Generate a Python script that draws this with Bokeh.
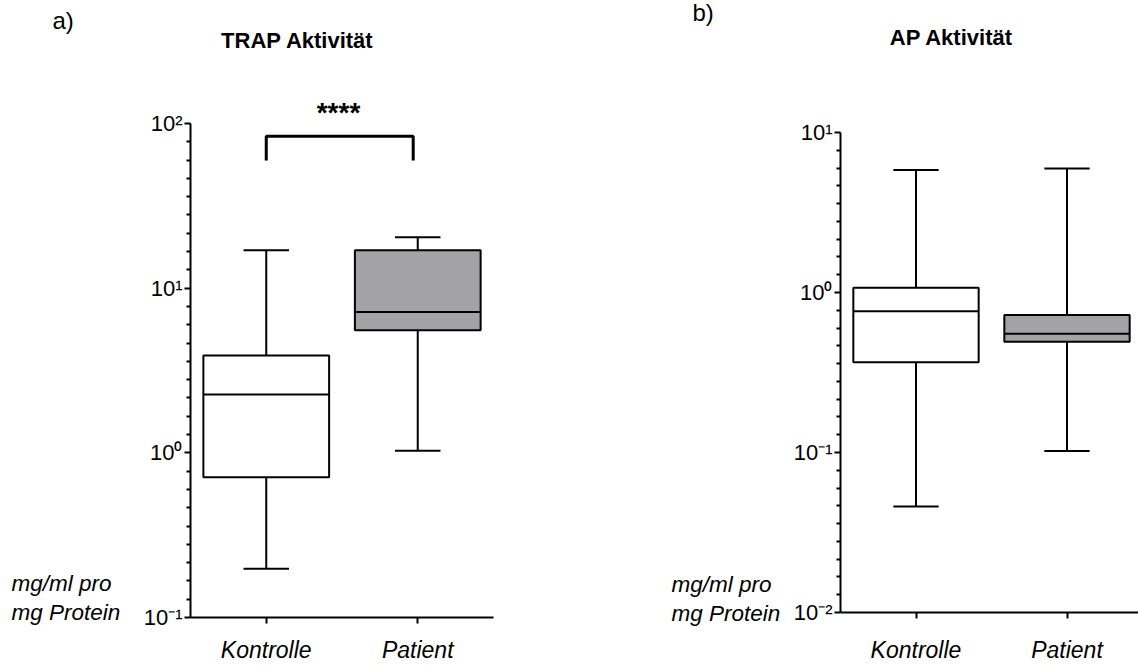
from bokeh.plotting import figure
from bokeh.models import Range1d, FixedTicker, Label
from bokeh.layouts import row
from bokeh.embed import file_html
from bokeh.resources import INLINE

# Box-plot summaries (min, Q1, median, Q3, max) per group
groups = ["Kontrolle", "Patient"]
box_colors = ["white", "#a3a2a7"]

trap_min = [0.198, 1.03]
trap_q1 = [0.71, 5.56]
trap_med = [2.26, 7.16]
trap_q3 = [3.9, 17.0]
trap_max = [17.0, 20.4]

ap_min = [0.046, 0.102]
ap_q1 = [0.366, 0.492]
ap_med = [0.763, 0.552]
ap_q3 = [1.07, 0.724]
ap_max = [5.82, 5.96]

# Significance bracket between the TRAP groups
sig_text = "****"
sig_top = 83.7
sig_leg = 59.7

trap_decades = [-1, 0, 1, 2]
ap_decades = [-2, -1, 0, 1]
unit_text = "mg/ml pro\nmg Protein"

SUP = str.maketrans("-0123456789", "⁻⁰¹²³⁴⁵⁶⁷⁸⁹")
FONT = "Liberation Sans"
BOX_W = 0.83
CAP_W = 0.3
HEIGHT = 666


def decade_ticker(decades):
    majors = [10.0 ** d for d in decades]
    minors = []
    for d in decades[:-1]:
        minors += [10.0 ** (d + i / 9) for i in range(1, 9)]
    labels = {10.0 ** d: "10" + str(d).translate(SUP) for d in decades}
    return FixedTicker(ticks=majors, minor_ticks=minors), labels


def make_panel(width, border_left, border_right, border_top, border_bottom,
               x_end, decades, lo, q1, med, q3, hi, label_standoff):
    p = figure(width=width, height=HEIGHT, y_axis_type="log", title=None,
               x_range=Range1d(0.5, x_end),
               y_range=Range1d(10.0 ** decades[0], 10.0 ** decades[-1]),
               output_backend="svg", toolbar_location=None,
               min_border_left=border_left, min_border_right=border_right,
               min_border_top=border_top, min_border_bottom=border_bottom)
    p.frame_align = False
    p.outline_line_color = None
    p.grid.visible = False
    p.background_fill_color = "white"
    p.border_fill_color = "white"

    ticker, labels = decade_ticker(decades)
    ya = p.yaxis[0]
    ya.ticker = ticker
    ya.major_label_overrides = labels
    ya.axis_line_width = 2
    ya.major_tick_line_width = 2
    ya.minor_tick_line_width = 2
    ya.major_tick_out = 6
    ya.major_tick_in = 0
    ya.minor_tick_out = 4
    ya.minor_tick_in = 0
    ya.major_label_text_font = FONT
    ya.major_label_text_font_size = "22px"
    ya.major_label_text_color = "black"
    ya.major_label_standoff = 2

    xs = [i + 1 for i in range(len(groups))]
    xa = p.xaxis[0]
    xa.ticker = FixedTicker(ticks=xs, minor_ticks=[])
    xa.major_label_overrides = {x: g for x, g in zip(xs, groups)}
    xa.axis_line_width = 2
    xa.major_tick_line_width = 2
    xa.major_tick_out = 6
    xa.major_tick_in = 0
    xa.minor_tick_line_color = None
    xa.major_label_text_font = FONT
    xa.major_label_text_font_style = "italic"
    xa.major_label_text_font_size = "23px"
    xa.major_label_text_color = "black"
    xa.major_label_standoff = label_standoff

    # whiskers and caps
    p.segment(x0=xs, y0=q3, x1=xs, y1=hi, line_color="black", line_width=2)
    p.segment(x0=xs, y0=lo, x1=xs, y1=q1, line_color="black", line_width=2)
    p.segment(x0=[x - CAP_W / 2 for x in xs], y0=hi,
              x1=[x + CAP_W / 2 for x in xs], y1=hi,
              line_color="black", line_width=2)
    p.segment(x0=[x - CAP_W / 2 for x in xs], y0=lo,
              x1=[x + CAP_W / 2 for x in xs], y1=lo,
              line_color="black", line_width=2)
    # boxes and medians
    p.vbar(x=xs, width=BOX_W, bottom=q1, top=q3, fill_color=box_colors,
           line_color="black", line_width=2)
    p.segment(x0=[x - BOX_W / 2 for x in xs], y0=med,
              x1=[x + BOX_W / 2 for x in xs], y1=med,
              line_color="black", line_width=2)
    return p


def add_text(p, side, x, y, text, size, style="normal", align="left",
             baseline="alphabetic", line_height=1.2):
    """Text placed in a side panel, offset (x, y) from that panel slot."""
    p.add_layout(Label(x=x, y=y, x_units="screen", y_units="screen",
                       text=text, text_font=FONT, text_font_size=size,
                       text_font_style=style, text_align=align,
                       text_baseline=baseline, text_color="black",
                       text_line_height=line_height),
                 side)


# Panel a) TRAP
p1 = make_panel(560, 190, 67, 123, 49, 2.5, trap_decades,
                trap_min, trap_q1, trap_med, trap_q3, trap_max, 13)
p1.line(x=[1, 1, 1.97, 1.97], y=[sig_leg, sig_top, sig_top, sig_leg],
        line_color="black", line_width=3)
add_text(p1, "above", 148, 11, sig_text, "28px", style="bold", align="center")
add_text(p1, "above", -138, 72, "a)", "24px")
add_text(p1, "above", 107, 25, "TRAP Aktivität", "22px", style="bold",
         align="center")
add_text(p1, "left", -20, -7, unit_text, "22.5px", style="italic",
         baseline="bottom", line_height=1.13)

# Panel b) AP
p2 = make_panel(578, 280, 0, 132, 54, 0.5 + 298 / 151, ap_decades,
                ap_min, ap_q1, ap_med, ap_q3, ap_max, 18)
add_text(p2, "above", -148, 120, "b)", "24px")
add_text(p2, "above", 111, 68, "AP Aktivität", "22px", style="bold",
         align="center")
add_text(p2, "left", -10, -13, unit_text, "22.5px", style="italic",
         baseline="bottom", line_height=1.13)

layout = row(p1, p2, spacing=0)
open("out.html", "w").write(file_html(layout, INLINE))
